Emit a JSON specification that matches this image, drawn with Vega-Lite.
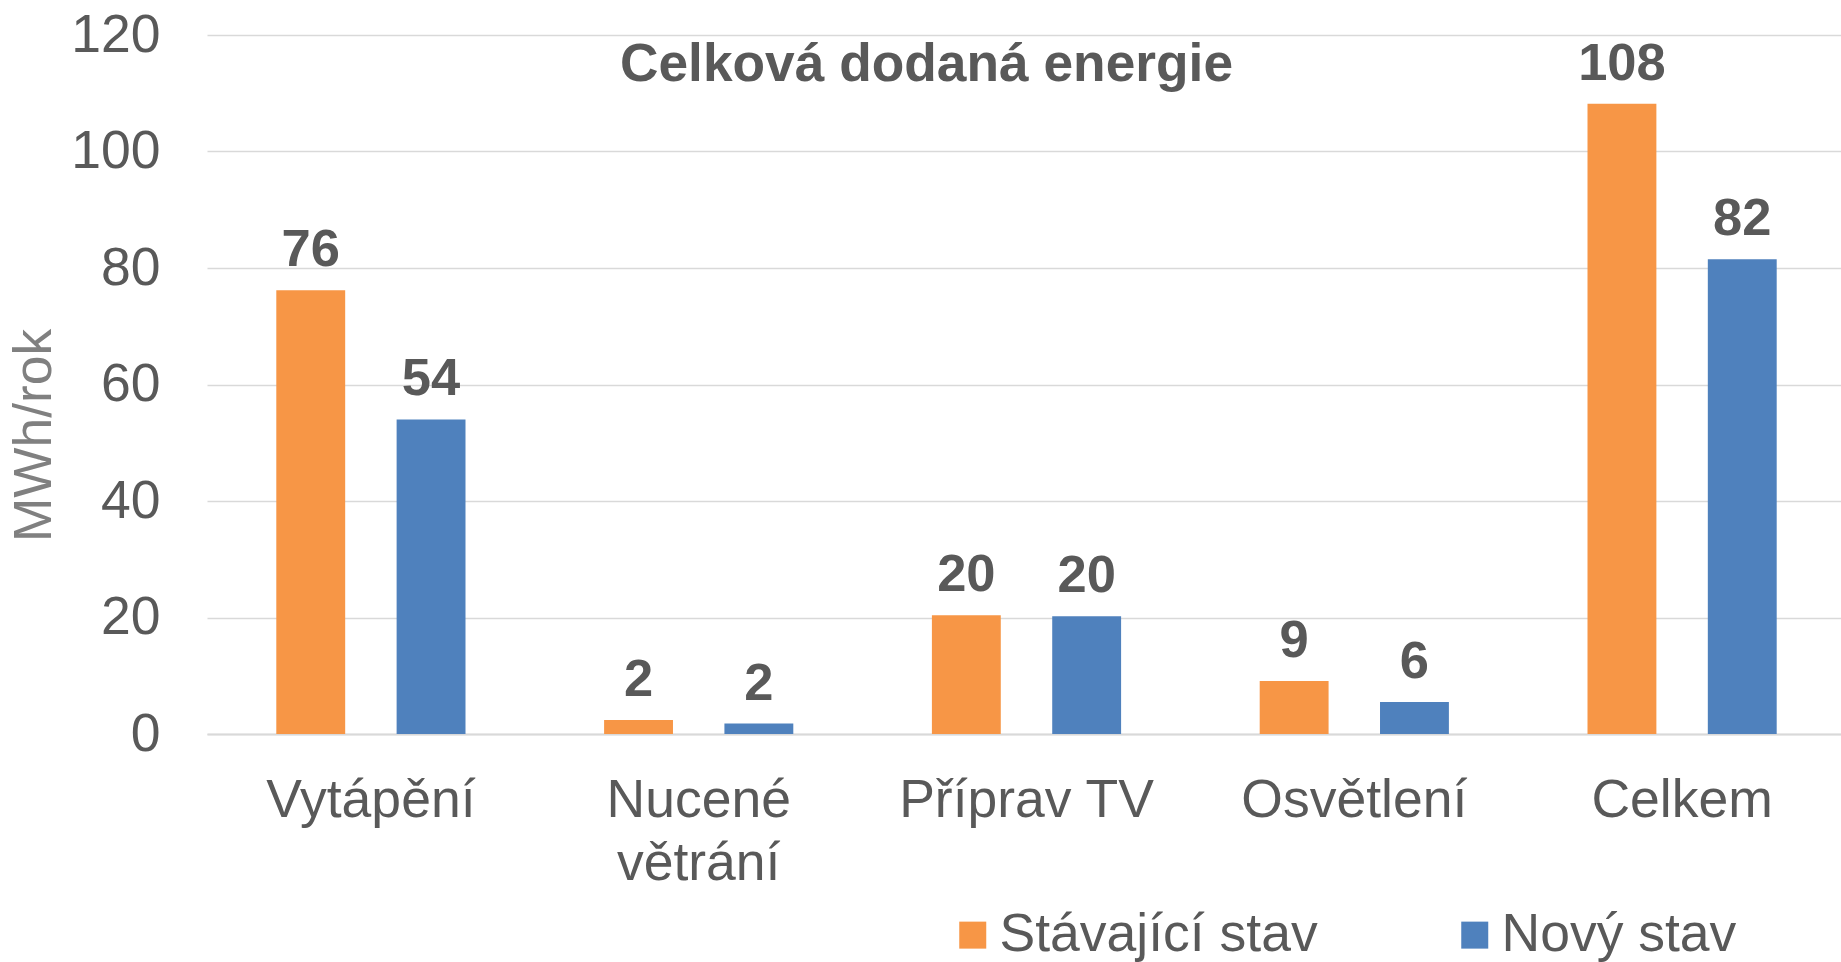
{
  "$schema": "https://vega.github.io/schema/vega-lite/v6.json",
  "width": 1634,
  "height": 699,
  "autosize": {"type": "none"},
  "padding": {"left": 207, "top": 35, "right": 0, "bottom": 228},
  "background": "white",
  "config": {
    "font": "Liberation Sans",
    "view": {"stroke": null}
  },
  "title": {
    "text": "Celková dodaná energie",
    "fontSize": 53.3,
    "fontWeight": "bold",
    "color": "#595959",
    "anchor": "middle",
    "frame": "bounds",
    "offset": -84
  },
  "data": {
    "values": [
      {"kategorie": "Vytápění", "stav": "Stávající stav", "hodnota": 76.2},
      {"kategorie": "Vytápění", "stav": "Nový stav", "hodnota": 54.0},
      {"kategorie": "Nucené větrání", "stav": "Stávající stav", "hodnota": 2.4},
      {"kategorie": "Nucené větrání", "stav": "Nový stav", "hodnota": 1.8},
      {"kategorie": "Příprav TV", "stav": "Stávající stav", "hodnota": 20.4},
      {"kategorie": "Příprav TV", "stav": "Nový stav", "hodnota": 20.2},
      {"kategorie": "Osvětlení", "stav": "Stávající stav", "hodnota": 9.1},
      {"kategorie": "Osvětlení", "stav": "Nový stav", "hodnota": 5.5},
      {"kategorie": "Celkem", "stav": "Stávající stav", "hodnota": 108.2},
      {"kategorie": "Celkem", "stav": "Nový stav", "hodnota": 81.5}
    ]
  },
  "encoding": {
    "x": {
      "field": "kategorie",
      "type": "nominal",
      "sort": ["Vytápění", "Nucené větrání", "Příprav TV", "Osvětlení", "Celkem"],
      "scale": {"paddingInner": 0, "paddingOuter": 0, "range": [0, 1639]},
      "axis": {
        "title": null,
        "labelAngle": 0,
        "labelFontSize": 53.5,
        "labelColor": "#595959",
        "labelPadding": 40,
        "labelLineHeight": 63,
        "labelLimit": 1000,
        "ticks": false,
        "tickSize": 0,
        "domainColor": "#d9d9d9",
        "domainWidth": 2,
        "labelExpr": "datum.label == 'Nucené větrání' ? ['Nucené', 'větrání'] : datum.label"
      }
    },
    "xOffset": {
      "field": "stav",
      "type": "nominal",
      "sort": ["Stávající stav", "Nový stav"],
      "scale": {"paddingInner": 0.4275, "paddingOuter": 0.576}
    },
    "y": {
      "field": "hodnota",
      "type": "quantitative",
      "scale": {"domain": [0, 120], "nice": false},
      "axis": {
        "values": [0, 20, 40, 60, 80, 100, 120],
        "title": "MWh/rok",
        "titleFontSize": 53.3,
        "titleFontWeight": "normal",
        "titleColor": "#808080",
        "titleX": -173,
        "titleY": 400,
        "titleAngle": -90,
        "titleAlign": "center",
        "titleBaseline": "middle",
        "labelFontSize": 53.5,
        "labelColor": "#595959",
        "labelPadding": 47,
        "ticks": false,
        "tickSize": 0,
        "domain": false,
        "gridColor": "#d9d9d9",
        "gridWidth": 1.5
      }
    }
  },
  "layer": [
    {
      "mark": {"type": "bar"},
      "encoding": {
        "color": {
          "field": "stav",
          "type": "nominal",
          "sort": ["Stávající stav", "Nový stav"],
          "scale": {"domain": ["Stávající stav", "Nový stav"], "range": ["#F79646", "#4F81BD"]},
          "legend": {
            "title": null,
            "orient": "none",
            "direction": "horizontal",
            "legendX": 739,
            "legendY": 873,
            "padding": 0,
            "symbolType": "square",
            "symbolSize": 729,
            "symbolStrokeWidth": 0,
            "symbolOpacity": 1,
            "labelFontSize": 53.5,
            "labelColor": "#595959",
            "labelOffset": 0,
            "labelLimit": 1000,
            "columnPadding": 130
          }
        }
      }
    },
    {
      "mark": {
        "type": "text",
        "fontSize": 52.5,
        "fontWeight": "bold",
        "color": "#595959",
        "baseline": "alphabetic",
        "dy": -24
      },
      "encoding": {
        "text": {"field": "hodnota", "type": "quantitative", "format": ".0f"}
      }
    }
  ]
}
